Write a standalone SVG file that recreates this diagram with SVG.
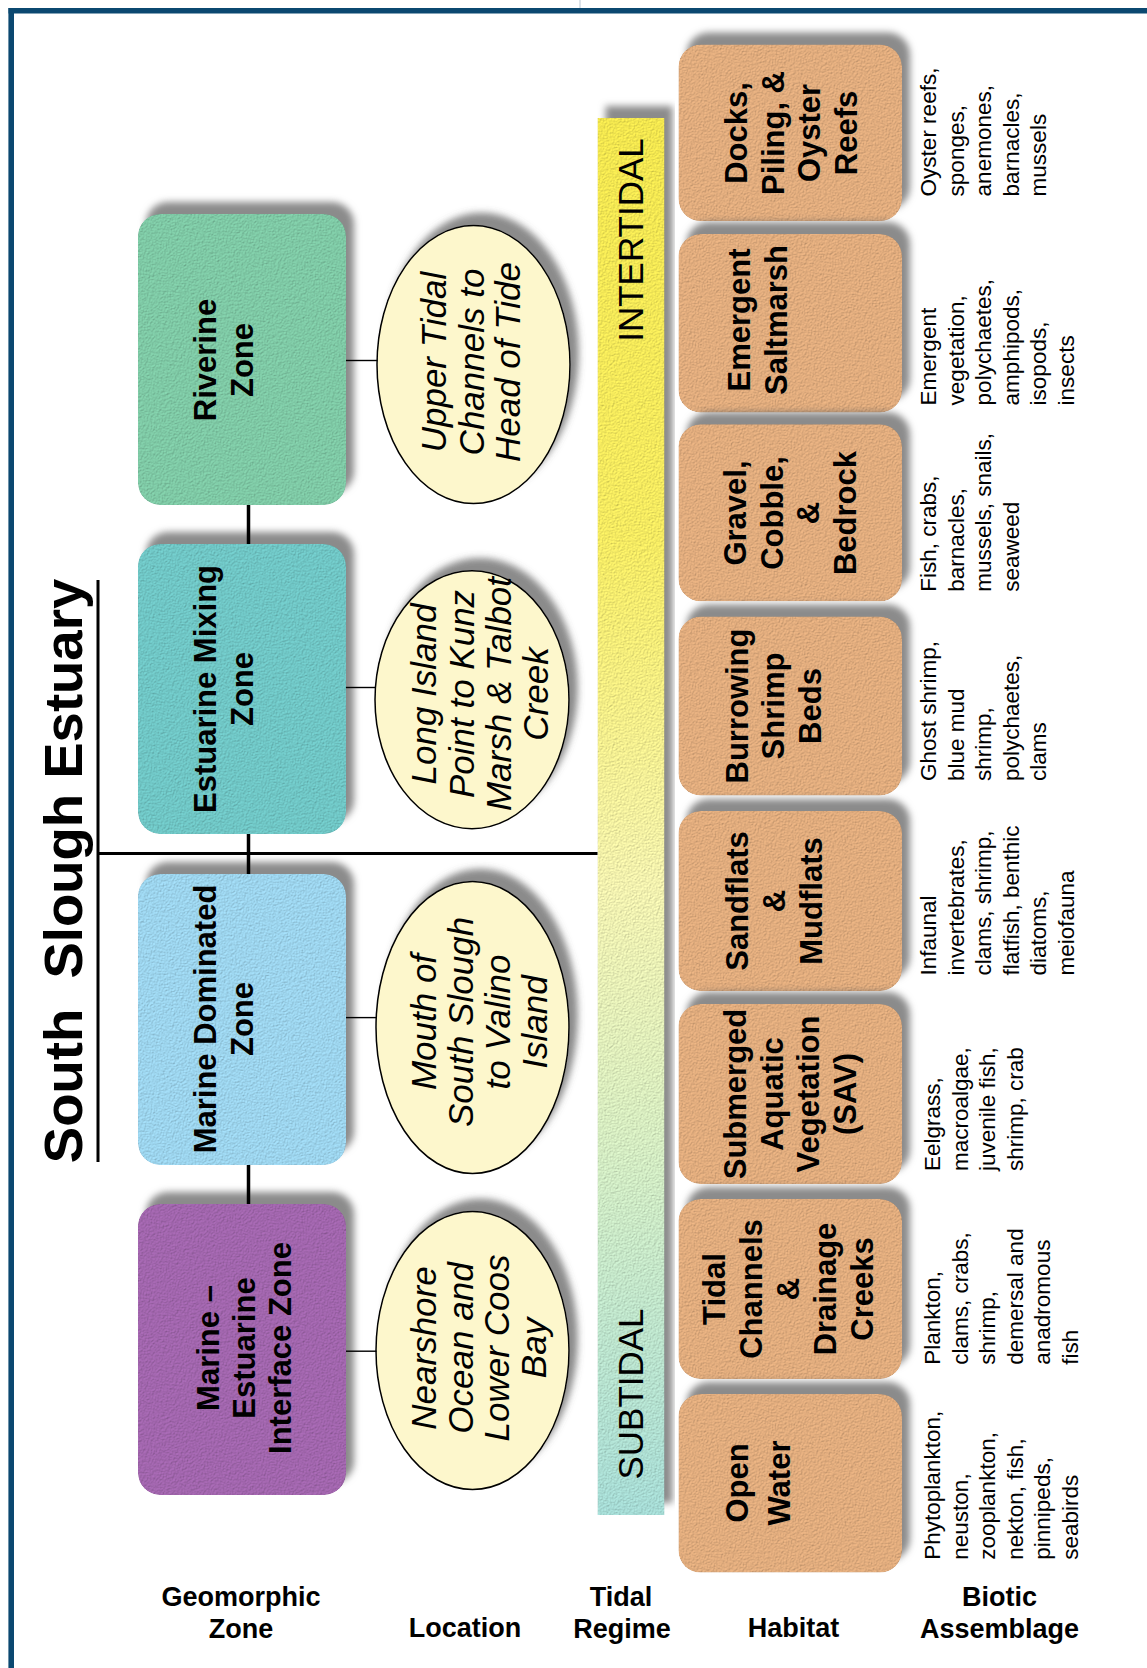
<svg xmlns="http://www.w3.org/2000/svg" width="1147" height="1668" viewBox="0 0 1147 1668">
<defs>
<style>
.zt{font-family:"Liberation Sans",Arial,Helvetica,sans-serif;font-weight:bold;font-size:31px;text-anchor:middle;fill:#000}
.lt{font-family:"Liberation Sans",Arial,Helvetica,sans-serif;font-style:italic;font-size:35px;text-anchor:middle;fill:#000}
.ht{font-family:"Liberation Sans",Arial,Helvetica,sans-serif;font-weight:bold;font-size:31px;text-anchor:middle;fill:#000}
.bt{font-family:"Liberation Sans",Arial,Helvetica,sans-serif;font-size:22.5px;text-anchor:start;fill:#000}
.lab{font-family:"Liberation Sans",Arial,Helvetica,sans-serif;font-weight:bold;font-size:27px;text-anchor:middle;fill:#000}
.tr{font-family:"Liberation Sans",Arial,Helvetica,sans-serif;font-size:35px;text-anchor:middle;fill:#000}
.title{font-family:"Liberation Sans",Arial,Helvetica,sans-serif;font-weight:bold;font-size:54.5px;text-anchor:middle;fill:#000}
.hab{fill:#e2ad7e}
.ell{fill:#fdf7cc;stroke:#000;stroke-width:1.5}
.cn{stroke:#000;fill:none}
</style>
<filter id="ds" x="-15%" y="-15%" width="130%" height="130%" color-interpolation-filters="sRGB">
<feTurbulence type="fractalNoise" baseFrequency="0.75" numOctaves="2" seed="4" result="noise"/>
<feDiffuseLighting in="noise" surfaceScale="1.6" diffuseConstant="1" lighting-color="#ffffff" result="light"><feDistantLight azimuth="235" elevation="55"/></feDiffuseLighting>
<feComposite in="SourceGraphic" in2="light" operator="arithmetic" k1="0.4" k2="0.67" k3="0" k4="0" result="tx"/>
<feComposite in="tx" in2="SourceAlpha" operator="in" result="txc"/>
<feGaussianBlur in="SourceAlpha" stdDeviation="3.5" result="bl"/>
<feOffset in="bl" dx="8" dy="-12" result="off"/>
<feFlood flood-color="#5a5a5a" flood-opacity="0.7"/>
<feComposite in2="off" operator="in" result="shadow"/>
<feMerge><feMergeNode in="shadow"/><feMergeNode in="txc"/></feMerge>
</filter>
<filter id="dse" x="-15%" y="-15%" width="130%" height="130%">
<feDropShadow dx="8" dy="-12" stdDeviation="3.5" flood-color="#5a5a5a" flood-opacity="0.7"/>
</filter>
<linearGradient id="tg" x1="0" y1="0" x2="0" y2="1">
<stop offset="0" stop-color="#f3e74f"/>
<stop offset="0.3" stop-color="#f5eb62"/>
<stop offset="0.55" stop-color="#f3f2b0"/>
<stop offset="0.75" stop-color="#d3ecc4"/>
<stop offset="1" stop-color="#a6dcd6"/>
</linearGradient>
</defs>
<rect x="0" y="0" width="1147" height="1668" fill="#fff"/>
<g id="frame">
<line x1="580" y1="0" x2="580" y2="8" stroke="#b9c6d3" stroke-width="1"/>
<line x1="8.5" y1="10.8" x2="1147" y2="10.8" stroke="#0b4870" stroke-width="5.6"/>
<line x1="11.2" y1="8" x2="11.2" y2="1668" stroke="#0b4870" stroke-width="5.6"/>
</g>
<g id="title">
<text class="title" transform="rotate(-90)" x="-871" y="82" xml:space="preserve">South  Slough Estuary</text>
</g>
<g id="zone-riverine">
<rect x="138" y="214" width="208" height="291" rx="22" fill="#7fcaa6" filter="url(#ds)"/>
<text class="zt" transform="rotate(-90)"><tspan x="-360" y="216">Riverine</tspan><tspan x="-360" y="253">Zone</tspan></text>
</g>
<g id="zone-estuarine-mixing">
<rect x="138" y="544" width="208" height="290" rx="22" fill="#70c7c6" filter="url(#ds)"/>
<text class="zt" transform="rotate(-90)"><tspan x="-689" y="216">Estuarine Mixing</tspan><tspan x="-689" y="253">Zone</tspan></text>
</g>
<g id="zone-marine-dominated">
<rect x="138" y="874" width="208" height="291" rx="22" fill="#9dd5ee" filter="url(#ds)"/>
<text class="zt" transform="rotate(-90)"><tspan x="-1019" y="216">Marine Dominated</tspan><tspan x="-1019" y="253">Zone</tspan></text>
</g>
<g id="zone-marine-estuarine">
<rect x="138" y="1204" width="208" height="291" rx="22" fill="#a266ae" filter="url(#ds)"/>
<text class="zt" transform="rotate(-90)"><tspan x="-1348" y="219">Marine –</tspan><tspan x="-1348" y="255">Estuarine</tspan><tspan x="-1348" y="291">Interface Zone</tspan></text>
</g>
<g id="loc-upper">
<ellipse class="ell" cx="473.5" cy="364.6" rx="96.5" ry="139" filter="url(#dse)"/>
<text class="lt" transform="rotate(-90)"><tspan x="-362" y="446">Upper Tidal</tspan><tspan x="-362" y="484">Channels to</tspan><tspan x="-362" y="520">Head of Tide</tspan></text>
</g>
<g id="loc-long-island">
<ellipse class="ell" cx="472" cy="699.7" rx="97" ry="129" filter="url(#dse)"/>
<text class="lt" transform="rotate(-90)"><tspan x="-694" y="436">Long Island</tspan><tspan x="-694" y="474">Point to Kunz</tspan><tspan x="-694" y="511">Marsh &amp; Talbot</tspan><tspan x="-694" y="548">Creek</tspan></text>
</g>
<g id="loc-mouth">
<ellipse class="ell" cx="472.5" cy="1027.5" rx="96.5" ry="146" filter="url(#dse)"/>
<text class="lt" transform="rotate(-90)"><tspan x="-1022" y="436">Mouth of</tspan><tspan x="-1022" y="473">South Slough</tspan><tspan x="-1022" y="510">to Valino</tspan><tspan x="-1022" y="547">Island</tspan></text>
</g>
<g id="loc-nearshore">
<ellipse class="ell" cx="472.5" cy="1350.5" rx="96.5" ry="139" filter="url(#dse)"/>
<text class="lt" transform="rotate(-90)"><tspan x="-1348" y="436">Nearshore</tspan><tspan x="-1348" y="473">Ocean and</tspan><tspan x="-1348" y="509">Lower Coos</tspan><tspan x="-1348" y="546">Bay</tspan></text>
</g>
<g id="tidal-regime">
<rect x="597.5" y="118" width="67" height="1397" fill="url(#tg)" filter="url(#ds)"/>
<text class="tr" transform="rotate(-90)" x="-240" y="643">INTERTIDAL</text>
<text class="tr" transform="rotate(-90)" x="-1394" y="643">SUBTIDAL</text>
</g>
<g id="hab-docks">
<rect class="hab" x="678.5" y="44.6" width="223.5" height="176.5" rx="22" filter="url(#ds)"/>
<text class="ht" transform="rotate(-90)"><tspan x="-133" y="747">Docks,</tspan><tspan x="-133" y="784">Piling, &amp;</tspan><tspan x="-133" y="820">Oyster</tspan><tspan x="-133" y="856.5">Reefs</tspan></text>
</g>
<g id="hab-saltmarsh">
<rect class="hab" x="678.5" y="234" width="223.5" height="178.5" rx="22" filter="url(#ds)"/>
<text class="ht" transform="rotate(-90)"><tspan x="-320" y="749.5">Emergent</tspan><tspan x="-320" y="786.5">Saltmarsh</tspan></text>
</g>
<g id="hab-gravel">
<rect class="hab" x="678.5" y="424.3" width="223.5" height="177" rx="22" filter="url(#ds)"/>
<text class="ht" transform="rotate(-90)"><tspan x="-513" y="746">Gravel,</tspan><tspan x="-513" y="782.5">Cobble,</tspan><tspan x="-513" y="819">&amp;</tspan><tspan x="-513" y="855.5">Bedrock</tspan></text>
</g>
<g id="hab-burrowing">
<rect class="hab" x="678.5" y="616.5" width="223.5" height="179" rx="22" filter="url(#ds)"/>
<text class="ht" transform="rotate(-90)"><tspan x="-706" y="748">Burrowing</tspan><tspan x="-706" y="784">Shrimp</tspan><tspan x="-706" y="820.5">Beds</tspan></text>
</g>
<g id="hab-flats">
<rect class="hab" x="678.5" y="811" width="223.5" height="180" rx="22" filter="url(#ds)"/>
<text class="ht" transform="rotate(-90)"><tspan x="-901" y="748">Sandflats</tspan><tspan x="-901" y="785">&amp;</tspan><tspan x="-901" y="822">Mudflats</tspan></text>
</g>
<g id="hab-sav">
<rect class="hab" x="678.5" y="1004" width="223.5" height="180" rx="22" filter="url(#ds)"/>
<text class="ht" transform="rotate(-90)"><tspan x="-1094" y="746">Submerged</tspan><tspan x="-1094" y="782.5">Aquatic</tspan><tspan x="-1094" y="819">Vegetation</tspan><tspan x="-1094" y="855.5">(SAV)</tspan></text>
</g>
<g id="hab-channels">
<rect class="hab" x="678.5" y="1199" width="223.5" height="180" rx="22" filter="url(#ds)"/>
<text class="ht" transform="rotate(-90)"><tspan x="-1289" y="725">Tidal</tspan><tspan x="-1289" y="762">Channels</tspan><tspan x="-1289" y="799">&amp;</tspan><tspan x="-1289" y="836">Drainage</tspan><tspan x="-1289" y="873">Creeks</tspan></text>
</g>
<g id="hab-open">
<rect class="hab" x="678.5" y="1394" width="223.5" height="178.6" rx="22" filter="url(#ds)"/>
<text class="ht" transform="rotate(-90)"><tspan x="-1483" y="748">Open</tspan><tspan x="-1483" y="790">Water</tspan></text>
</g>
<g id="biotic">
<text class="bt" transform="rotate(-90)"><tspan x="-196.4" y="936">Oyster reefs,</tspan><tspan x="-196.4" y="963.5">sponges,</tspan><tspan x="-196.4" y="991">anemones,</tspan><tspan x="-196.4" y="1018.5">barnacles,</tspan><tspan x="-196.4" y="1046">mussels</tspan></text>
<text class="bt" transform="rotate(-90)"><tspan x="-405.4" y="936">Emergent</tspan><tspan x="-405.4" y="963.5">vegetation,</tspan><tspan x="-405.4" y="991">polychaetes,</tspan><tspan x="-405.4" y="1018.5">amphipods,</tspan><tspan x="-405.4" y="1046">isopods,</tspan><tspan x="-405.4" y="1073.5">insects</tspan></text>
<text class="bt" transform="rotate(-90)"><tspan x="-591.7" y="936">Fish, crabs,</tspan><tspan x="-591.7" y="963.5">barnacles,</tspan><tspan x="-591.7" y="991">mussels, snails,</tspan><tspan x="-591.7" y="1018.5">seaweed</tspan></text>
<text class="bt" transform="rotate(-90)"><tspan x="-781" y="936">Ghost shrimp,</tspan><tspan x="-781" y="963.5">blue mud</tspan><tspan x="-781" y="991">shrimp,</tspan><tspan x="-781" y="1018.5">polychaetes,</tspan><tspan x="-781" y="1046">clams</tspan></text>
<text class="bt" transform="rotate(-90)"><tspan x="-975.5" y="936">Infaunal</tspan><tspan x="-975.5" y="963.5">invertebrates,</tspan><tspan x="-975.5" y="991">clams, shrimp,</tspan><tspan x="-975.5" y="1018.5">flatfish, benthic</tspan><tspan x="-975.5" y="1046">diatoms,</tspan><tspan x="-975.5" y="1073.5">meiofauna</tspan></text>
<text class="bt" transform="rotate(-90)"><tspan x="-1171" y="940">Eelgrass,</tspan><tspan x="-1171" y="967.5">macroalgae,</tspan><tspan x="-1171" y="995">juvenile fish,</tspan><tspan x="-1171" y="1022.5">shrimp, crab</tspan></text>
<text class="bt" transform="rotate(-90)"><tspan x="-1364.7" y="940">Plankton,</tspan><tspan x="-1364.7" y="967.5">clams, crabs,</tspan><tspan x="-1364.7" y="995">shrimp,</tspan><tspan x="-1364.7" y="1022.5">demersal and</tspan><tspan x="-1364.7" y="1050">anadromous</tspan><tspan x="-1364.7" y="1077.5">fish</tspan></text>
<text class="bt" transform="rotate(-90)"><tspan x="-1559.7" y="940">Phytoplankton,</tspan><tspan x="-1559.7" y="967.5">neuston,</tspan><tspan x="-1559.7" y="995">zooplankton,</tspan><tspan x="-1559.7" y="1022.5">nekton, fish,</tspan><tspan x="-1559.7" y="1050">pinnipeds,</tspan><tspan x="-1559.7" y="1077.5">seabirds</tspan></text>
</g>
<g id="connectors">
<line class="cn" x1="98" y1="580" x2="98" y2="1162" stroke-width="3"/>
<line class="cn" x1="98" y1="853.5" x2="597.5" y2="853.5" stroke-width="3"/>
<line class="cn" x1="248.5" y1="505" x2="248.5" y2="544" stroke-width="3.5"/>
<line class="cn" x1="248.5" y1="834" x2="248.5" y2="874" stroke-width="3.5"/>
<line class="cn" x1="248.5" y1="1165" x2="248.5" y2="1204" stroke-width="3.5"/>
<line class="cn" x1="346" y1="360.5" x2="377.5" y2="360.5" stroke-width="1.4"/>
<line class="cn" x1="346" y1="687.5" x2="376" y2="687.5" stroke-width="1.4"/>
<line class="cn" x1="346" y1="1017.6" x2="376.5" y2="1017.6" stroke-width="1.4"/>
<line class="cn" x1="346" y1="1351.2" x2="376.5" y2="1351.2" stroke-width="1.4"/>
</g>
<g id="column-labels">
<text class="lab"><tspan x="241" y="1606">Geomorphic</tspan><tspan x="241" y="1637.5">Zone</tspan></text>
<text class="lab" x="465" y="1637">Location</text>
<text class="lab"><tspan x="621" y="1606">Tidal</tspan><tspan x="622" y="1637.5">Regime</tspan></text>
<text class="lab" x="793.5" y="1637">Habitat</text>
<text class="lab"><tspan x="999.5" y="1606">Biotic</tspan><tspan x="999.5" y="1637.5">Assemblage</tspan></text>
</g>
</svg>
